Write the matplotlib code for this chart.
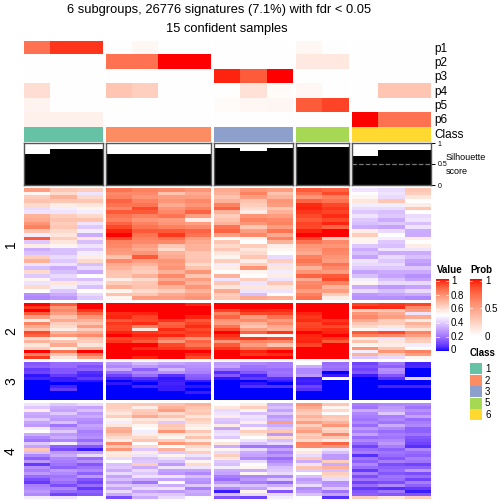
import numpy as np
import matplotlib.pyplot as plt
from matplotlib.colors import LinearSegmentedColormap

plt.rcParams['font.family'] = ['Liberation Sans', 'DejaVu Sans']

# ------------------------------ Data ------------------------------

group_sizes = [3, 4, 3, 2, 3]
class_names = ['1', '2', '3', '5', '6']
class_colors = ['#66C2A5', '#FC8D62', '#8DA0CB', '#A6D854', '#FFD92F']

prob_names = ['p1', 'p2', 'p3', 'p4', 'p5', 'p6']
probs = [
    [.70, .92, .92, 0, .04, 0, 0, 0, 0, 0, .04, 0, 0, 0, 0],
    [0, 0, 0, .70, .70, 1, 1, 0, 0, 0, .12, .12, 0, 0, 0],
    [0, 0, 0, 0, 0, 0, 0, .96, .80, 1, 0, 0, 0, 0, 0],
    [.17, 0, 0, .30, .25, 0, 0, 0, .15, .02, .04, 0, 0, .30, .30],
    [.06, 0, 0, 0, 0, 0, 0, .02, .04, .05, .80, .88, 0, 0, 0],
    [.08, .08, .08, 0, 0, 0, 0, 0, 0, 0, 0, 0, 1, .70, .70],
]

silhouette = [.75, .85, .85, .73, .73, .73, .73, .87, .80, .87, .90, .90, .69, .83, .83]

cluster_names = ['1', '2', '3', '4']

# expression per row, in percent, one column per sample
cluster_1 = [
    [75, 65, 63, 85, 82, 80, 77, 72, 77, 75, 90, 88, 44, 42, 65],
    [53, 60, 44, 80, 80, 66, 72, 70, 82, 66, 85, 93, 50, 44, 63],
    [63, 70, 60, 82, 77, 75, 75, 66, 75, 70, 77, 82, 53, 42, 57],
    [66, 65, 65, 88, 82, 77, 80, 70, 66, 77, 88, 85, 57, 65, 50],
    [60, 55, 57, 85, 85, 72, 77, 82, 63, 75, 97, 93, 46, 46, 55],
    [42, 46, 53, 80, 93, 77, 82, 88, 60, 65, 98, 96, 42, 42, 65],
    [44, 44, 46, 90, 90, 80, 88, 70, 55, 70, 96, 94, 38, 36, 50],
    [70, 63, 60, 85, 82, 85, 75, 63, 77, 75, 93, 97, 44, 38, 42],
    [72, 66, 66, 82, 77, 75, 55, 66, 82, 80, 90, 93, 38, 32, 44],
    [77, 63, 44, 88, 82, 77, 75, 70, 77, 82, 94, 98, 36, 38, 36],
    [82, 65, 38, 93, 85, 82, 80, 85, 65, 75, 93, 88, 32, 30, 44],
    [66, 60, 46, 98, 90, 90, 88, 88, 75, 85, 98, 100, 55, 42, 32],
    [46, 57, 32, 100, 85, 96, 85, 75, 80, 72, 100, 100, 63, 50, 32],
    [90, 63, 57, 93, 82, 85, 75, 50, 53, 82, 94, 65, 53, 46, 55],
    [38, 57, 36, 82, 80, 80, 72, 65, 50, 70, 85, 80, 53, 38, 50],
    [55, 53, 44, 80, 75, 65, 70, 60, 63, 55, 77, 77, 38, 36, 55],
    [32, 36, 38, 77, 72, 60, 70, 65, 57, 53, 75, 82, 32, 44, 44],
    [36, 36, 46, 75, 77, 70, 65, 57, 60, 50, 72, 80, 36, 32, 32],
    [63, 42, 55, 66, 90, 72, 65, 53, 65, 42, 82, 77, 30, 42, 36],
    [70, 38, 60, 80, 75, 77, 66, 63, 55, 63, 85, 75, 44, 38, 30],
    [44, 44, 36, 72, 70, 75, 60, 46, 63, 44, 80, 85, 42, 42, 28],
    [36, 32, 42, 70, 65, 77, 66, 55, 77, 57, 70, 80, 38, 38, 38],
    [60, 36, 32, 66, 63, 70, 77, 50, 53, 46, 77, 75, 30, 32, 32],
    [38, 42, 50, 65, 70, 80, 65, 70, 50, 55, 88, 90, 36, 30, 26],
    [53, 38, 36, 55, 60, 72, 75, 44, 63, 44, 72, 93, 46, 36, 30],
    [44, 57, 44, 63, 65, 80, 70, 65, 44, 65, 80, 82, 53, 42, 42],
    [60, 46, 36, 70, 66, 70, 77, 57, 57, 57, 82, 70, 32, 28, 30],
    [50, 38, 50, 53, 60, 63, 70, 72, 44, 44, 75, 75, 42, 36, 42],
    [26, 32, 42, 66, 65, 72, 75, 63, 36, 50, 82, 63, 28, 30, 32],
    [24, 28, 38, 53, 75, 75, 77, 65, 72, 70, 85, 55, 26, 26, 24],
]

cluster_2 = [
    [100, 90, 100, 100, 100, 100, 98, 100, 100, 100, 100, 100, 94, 96, 94],
    [96, 77, 100, 100, 100, 100, 100, 100, 100, 100, 100, 100, 98, 97, 80],
    [100, 80, 96, 100, 100, 100, 100, 94, 98, 97, 100, 100, 63, 65, 75],
    [90, 75, 88, 97, 98, 100, 100, 82, 93, 94, 98, 100, 77, 72, 44],
    [75, 66, 77, 98, 94, 100, 98, 88, 75, 85, 96, 100, 80, 75, 72],
    [55, 72, 70, 90, 93, 96, 90, 77, 80, 75, 97, 96, 72, 63, 55],
    [82, 63, 66, 96, 97, 88, 94, 75, 70, 80, 93, 98, 65, 63, 70],
    [72, 60, 75, 93, 82, 90, 97, 85, 65, 72, 94, 93, 60, 57, 65],
    [66, 55, 63, 94, 57, 97, 93, 93, 75, 70, 96, 97, 53, 46, 57],
    [93, 70, 72, 98, 96, 94, 96, 100, 88, 96, 100, 98, 90, 93, 82],
    [88, 77, 80, 100, 98, 98, 94, 97, 53, 53, 98, 100, 82, 80, 75],
    [60, 53, 65, 93, 94, 85, 77, 94, 96, 93, 97, 96, 55, 44, 65],
    [70, 66, 63, 96, 90, 77, 88, 77, 82, 80, 98, 90, 66, 57, 63],
    [57, 72, 57, 100, 100, 93, 85, 90, 75, 66, 94, 100, 53, 55, 46],
    [63, 53, 70, 100, 97, 96, 93, 96, 85, 88, 100, 100, 77, 65, 50],
    [100, 85, 100, 100, 100, 100, 100, 100, 98, 100, 100, 100, 46, 77, 82],
    [82, 66, 85, 100, 100, 100, 97, 100, 96, 97, 100, 100, 70, 63, 75],
    [96, 57, 75, 100, 98, 100, 93, 100, 100, 100, 100, 100, 38, 42, 53],
]

cluster_3 = [
    [14, 18, 18, 28, 34, 30, 28, 28, 24, 22, 50, 18, 10, 20, 4],
    [16, 18, 13, 24, 28, 24, 26, 30, 20, 22, 32, 20, 13, 16, 5],
    [8, 14, 16, 32, 16, 34, 24, 20, 18, 18, 24, 18, 10, 26, 0],
    [10, 14, 6, 18, 24, 26, 22, 6, 14, 20, 24, 0, 14, 24, 0],
    [2, 8, 4, 10, 18, 6, 16, 14, 4, 18, 28, 3, 3, 14, 0],
    [4, 3, 8, 4, 6, 2, 14, 2, 8, 6, 3, 50, 0, 6, 40],
    [0, 3, 2, 0, 2, 3, 3, 0, 0, 3, 4, 0, 0, 0, 0],
    [0, 0, 0, 2, 0, 4, 0, 0, 2, 0, 3, 0, 0, 0, 0],
    [0, 4, 0, 0, 4, 3, 2, 0, 6, 6, 10, 0, 0, 4, 4],
    [0, 8, 0, 0, 0, 3, 0, 0, 0, 0, 6, 0, 0, 0, 0],
    [0, 0, 0, 0, 0, 0, 3, 0, 0, 0, 0, 0, 0, 0, 0],
    [0, 0, 0, 0, 0, 0, 0, 0, 0, 0, 0, 0, 0, 0, 0],
    [0, 0, 0, 0, 0, 0, 0, 0, 0, 0, 0, 0, 0, 0, 0],
]

cluster_4 = [
    [44, 38, 42, 63, 65, 66, 70, 50, 55, 32, 77, 65, 22, 24, 24],
    [38, 32, 30, 63, 55, 70, 66, 57, 63, 36, 72, 53, 20, 28, 20],
    [55, 30, 36, 60, 63, 75, 63, 42, 53, 30, 66, 60, 32, 30, 26],
    [32, 38, 28, 57, 65, 60, 65, 44, 36, 38, 63, 50, 24, 38, 22],
    [30, 30, 32, 63, 72, 66, 57, 55, 44, 28, 70, 65, 22, 22, 30],
    [38, 28, 26, 53, 57, 57, 63, 38, 42, 32, 65, 63, 20, 24, 18],
    [30, 36, 24, 46, 60, 38, 60, 36, 55, 75, 75, 70, 24, 20, 22],
    [28, 20, 30, 57, 53, 65, 55, 55, 36, 32, 63, 77, 18, 32, 24],
    [46, 30, 28, 70, 50, 63, 53, 30, 53, 38, 70, 60, 28, 24, 16],
    [50, 38, 22, 72, 46, 77, 65, 42, 63, 65, 75, 63, 22, 18, 16],
    [32, 28, 24, 65, 55, 57, 57, 44, 57, 28, 63, 80, 30, 22, 20],
    [24, 32, 26, 60, 60, 53, 66, 38, 50, 60, 66, 65, 18, 20, 14],
    [20, 24, 18, 55, 65, 63, 55, 50, 44, 36, 60, 55, 24, 24, 12],
    [38, 46, 28, 80, 50, 77, 72, 57, 36, 42, 82, 88, 18, 28, 10],
    [30, 16, 14, 65, 60, 50, 60, 32, 20, 20, 80, 77, 10, 22, 6],
    [65, 12, 3, 77, 38, 70, 55, 53, 42, 30, 53, 44, 18, 16, 24],
    [36, 28, 30, 55, 55, 38, 63, 42, 32, 22, 57, 36, 22, 20, 18],
    [24, 32, 42, 57, 44, 53, 44, 63, 30, 28, 42, 28, 6, 18, 16],
    [16, 24, 18, 42, 36, 42, 36, 57, 24, 18, 65, 28, 20, 14, 22],
    [28, 22, 26, 50, 38, 36, 53, 38, 42, 24, 32, 63, 16, 22, 20],
    [8, 20, 14, 36, 63, 28, 60, 36, 50, 30, 44, 32, 24, 12, 10],
    [26, 16, 20, 38, 32, 44, 44, 46, 53, 36, 66, 70, 18, 16, 16],
    [22, 28, 24, 32, 42, 30, 30, 32, 32, 38, 38, 36, 8, 18, 28],
    [28, 24, 16, 42, 38, 28, 24, 30, 53, 42, 50, 63, 22, 14, 12],
    [18, 20, 28, 30, 44, 44, 36, 22, 24, 24, 36, 60, 12, 20, 18],
    [12, 22, 14, 36, 32, 30, 28, 18, 28, 38, 28, 42, 20, 18, 10],
    [8, 18, 10, 28, 20, 50, 26, 28, 22, 18, 32, 26, 10, 12, 22],
    [22, 12, 18, 38, 36, 32, 38, 38, 36, 32, 42, 28, 18, 24, 16],
    [24, 24, 8, 30, 42, 44, 22, 24, 30, 44, 24, 38, 8, 6, 8],
    [28, 18, 16, 42, 30, 28, 32, 3, 53, 14, 28, 20, 14, 20, 3],
    [24, 10, 14, 32, 38, 38, 30, 36, 42, 42, 36, 30, 16, 14, 14],
    [46, 44, 50, 12, 32, 42, 50, 14, 10, 46, 50, 6, 63, 57, 63],
]

clusters = [cluster_1, cluster_2, cluster_3, cluster_4]

# ------------------------------ Layout ------------------------------

fig = plt.figure(figsize=(5.04, 5.04), dpi=100)
W, H = 504.0, 504.0


def px_axes(x0, y0, x1, y1):
    # axes from pixel box, y counted from the top of the image
    ax = fig.add_axes([x0 / W, 1 - y1 / H, (x1 - x0) / W, (y1 - y0) / H])
    ax.axis('off')
    return ax


def px_text(x, y, s, **kw):
    kw.setdefault('va', 'center')
    kw.setdefault('ha', 'left')
    fig.text(x / W, 1 - y / H, s, **kw)


def lab_to_rgb(lab):
    # CIE LAB (D65) to sRGB
    fy = (lab[0] + 16) / 116
    fx = fy + lab[1] / 500
    fz = fy - lab[2] / 200
    f = np.array([fx, fy, fz])
    xyz = np.where(f > 6 / 29, f ** 3, 3 * (6 / 29) ** 2 * (f - 4 / 29)) * np.array([0.9505, 1.0, 1.089])
    m = np.array([[3.2406, -1.5372, -0.4986], [-0.9689, 1.8758, 0.0415], [0.0557, -0.2040, 1.0570]])
    rgb = np.clip(m @ xyz, 0, 1)
    return np.where(rgb > 0.0031308, 1.055 * rgb ** (1 / 2.4) - 0.055, 12.92 * rgb)


def lab_ramp(name, anchors):
    # the ramps of the reference blend in LAB, which gives the salmon and violet tints
    cols = []
    for a, b in zip(anchors[:-1], anchors[1:]):
        for t in np.linspace(0, 1, 64):
            cols.append(lab_to_rgb(np.array(a) * (1 - t) + np.array(b) * t))
    return LinearSegmentedColormap.from_list(name, cols, N=256)


lab_white = (100.0, 0.0, 0.0)
lab_red = (53.24, 80.09, 67.2)
lab_blue = (32.3, 79.19, -107.86)

value_cmap = lab_ramp('value', [lab_blue, lab_white, lab_red])
prob_cmap = lab_ramp('prob', [lab_white, lab_red])

group_x = [(24, 103), (106, 211), (214, 293), (296, 349), (352, 431)]
cluster_y = [(188, 300), (303, 359), (362, 400), (403, 499)]

col_slices = []
start = 0
for n in group_sizes:
    col_slices.append((start, start + n))
    start += n

# ------------------------------ Annotations ------------------------------

probs = np.array(probs)
for (x0, x1), (a, b) in zip(group_x, col_slices):
    sub = px_axes(x0, 41, x1, 127)
    sub.imshow(probs[:, a:b], cmap=prob_cmap, vmin=0, vmax=1, aspect='auto', interpolation='nearest')

p_y = [49, 63, 77, 92, 106, 120]
for y, name in zip(p_y, prob_names):
    px_text(434, y, name, fontsize=8.5)
px_text(434, 135, 'Class', fontsize=8.5)

for (x0, x1), c in zip(group_x, class_colors):
    sub = px_axes(x0, 127, x1, 142)
    sub.axis('on')
    sub.set_facecolor(c)
    sub.set_xticks([])
    sub.set_yticks([])
    for s in sub.spines.values():
        s.set_visible(False)

# silhouette bars, one box per group
for i, ((x0, x1), (a, b)) in enumerate(zip(group_x, col_slices)):
    sub = px_axes(x0, 143, x1, 185)
    sub.axis('on')
    sub.bar(np.arange(b - a), silhouette[a:b], width=1.0, color='black')
    sub.set_xlim(-0.5, b - a - 0.5)
    sub.set_ylim(0, 1)
    sub.set_xticks([])
    sub.set_yticks([])
    for s in sub.spines.values():
        s.set_color('#555555')
        s.set_linewidth(1.0)
    if i == 4:
        sub.axhline(0.5, color='#777777', ls='--', lw=0.9)
        sub.yaxis.tick_right()
        sub.set_yticks([0, 0.5, 1])
        sub.set_yticklabels(['0', '0.5', '1'], fontsize=5)
        sub.tick_params(axis='y', length=3, width=0.7, pad=2)

px_text(446, 158, 'Silhouette', fontsize=6.5)
px_text(446, 171, 'score', fontsize=6.5)

# ------------------------------ Heatmap ------------------------------

for (y0, y1), rows, name in zip(cluster_y, clusters, cluster_names):
    rows = np.array(rows) / 100.0
    for (x0, x1), (a, b) in zip(group_x, col_slices):
        sub = px_axes(x0, y0, x1, y1)
        sub.imshow(rows[:, a:b], cmap=value_cmap, vmin=0, vmax=1, aspect='auto', interpolation='nearest')
    px_text(11, (y0 + y1) / 2, name, fontsize=10, rotation=90, ha='center')

# ------------------------------ Legends ------------------------------

bar_vals = np.linspace(1, 0, 200).reshape(-1, 1)

ax_val = px_axes(436, 279, 449, 351)
ax_val.imshow(bar_vals, cmap=value_cmap, vmin=0, vmax=1, aspect='auto', extent=[0, 1, 0, 1])
for v in [0.2, 0.4, 0.6, 0.8, 1.0]:
    ax_val.plot([0, 0.2], [v * 0.97] * 2, color='white', lw=0.5)
    ax_val.plot([0.8, 1], [v * 0.97] * 2, color='white', lw=0.5)
ax_val.set_xlim(0, 1)
ax_val.set_ylim(0, 1)

ax_prob = px_axes(470, 279, 482, 336)
ax_prob.imshow(bar_vals, cmap=prob_cmap, vmin=0, vmax=1, aspect='auto', extent=[0, 1, 0, 1])
for v in [0.5, 0.97]:
    ax_prob.plot([0, 0.2], [v] * 2, color='white', lw=0.5)
    ax_prob.plot([0.8, 1], [v] * 2, color='white', lw=0.5)
ax_prob.set_xlim(0, 1)
ax_prob.set_ylim(0, 1)

px_text(437, 270, 'Value', fontsize=7, fontweight='bold')
px_text(470, 270, 'Prob', fontsize=7, fontweight='bold')
for y, s in zip([281, 296, 309, 323, 337, 350], ['1', '0.8', '0.6', '0.4', '0.2', '0']):
    px_text(451, y, s, fontsize=7)
for y, s in zip([281, 309, 337], ['1', '0.5', '0']):
    px_text(485, y, s, fontsize=7)

px_text(470, 353, 'Class', fontsize=7, fontweight='bold')
swatch_y = [363, 374.5, 386, 397.5, 409]
for y, c, s in zip(swatch_y, class_colors, class_names):
    sw = px_axes(470, y, 482, y + 11)
    sw.axis('on')
    sw.set_facecolor(c)
    sw.set_xticks([])
    sw.set_yticks([])
    for sp in sw.spines.values():
        sp.set_visible(False)
    px_text(485, y + 6, s, fontsize=7)

# ------------------------------ Titles ------------------------------

px_text(219, 10, '6 subgroups, 26776 signatures (7.1%) with fdr < 0.05', fontsize=9.3, ha='center')
px_text(227, 29, '15 confident samples', fontsize=9.3, ha='center')

fig.savefig('out.png', dpi=100)
